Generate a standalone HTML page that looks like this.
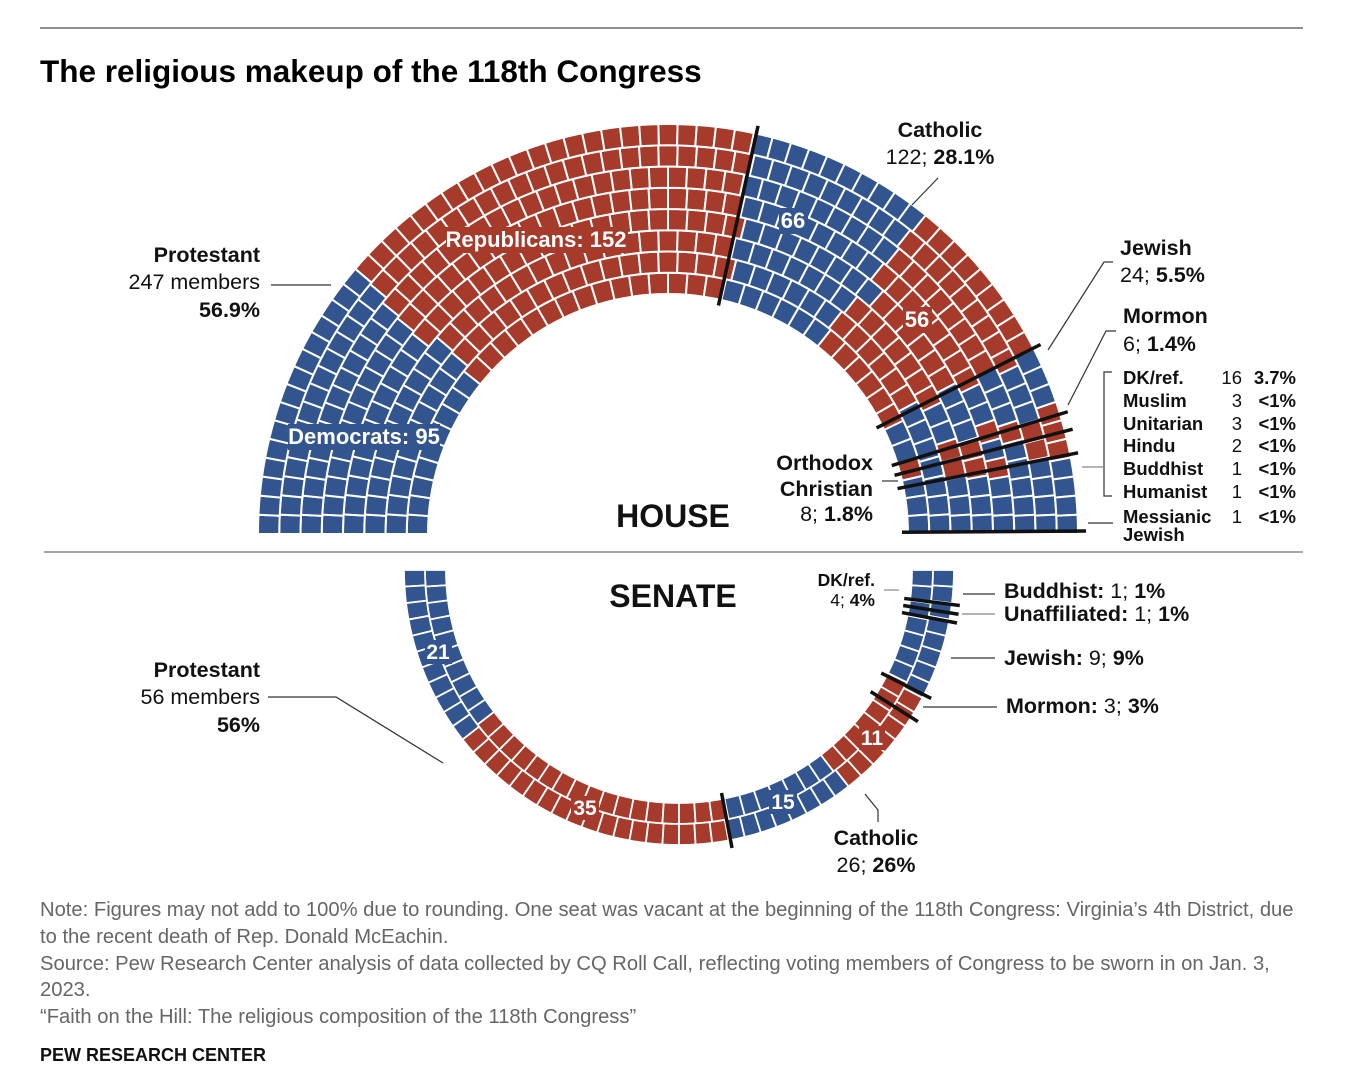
<!DOCTYPE html>
<html><head><meta charset="utf-8">
<style>
html,body{margin:0;padding:0;background:#fff;}
body{width:1348px;height:1078px;overflow:hidden;font-family:"Liberation Sans",Arial,sans-serif;}
svg text{font-family:"Liberation Sans",Arial,sans-serif;}
.b{font-weight:bold;}
</style></head>
<body>
<svg id="chart" width="1348" height="1078" viewBox="0 0 1348 1078" xmlns="http://www.w3.org/2000/svg">
<line x1="40" y1="28" x2="1303" y2="28" stroke="#222" stroke-width="1"/>
<text x="40" y="82" font-size="31.5" font-weight="bold" fill="#000">The religious makeup of the 118th Congress</text>
<g id="house"></g>
<g id="senate"></g>
<line x1="44" y1="552" x2="1303" y2="552" stroke="#888" stroke-width="1.5"/>
<text x="673" y="527" font-size="32" font-weight="bold" text-anchor="middle" fill="#111">HOUSE</text>
<text x="673" y="607" font-size="32" font-weight="bold" text-anchor="middle" fill="#111">SENATE</text>

<g>
<rect x="446" y="227" width="182" height="26" fill="#a63a2b"/>
<rect x="288" y="424" width="152" height="26" fill="#32558f"/>
<rect x="779" y="208" width="29" height="26" fill="#32558f"/>
<rect x="903" y="307" width="29" height="26" fill="#a63a2b"/>
<rect x="425" y="640" width="27" height="24" fill="#32558f"/>
<rect x="571" y="796" width="28" height="24" fill="#a63a2b"/>
<rect x="769" y="790" width="28" height="24" fill="#32558f"/>
<rect x="859" y="726" width="26" height="24" fill="#a63a2b"/>
</g>
<g fill="#fff" font-weight="bold" text-anchor="middle">
<text x="536" y="247" font-size="22">Republicans: 152</text>
<text x="364" y="444" font-size="22">Democrats: 95</text>
<text x="793" y="228" font-size="22">66</text>
<text x="917" y="327" font-size="22">56</text>
<text x="438" y="659" font-size="21">21</text>
<text x="585" y="815" font-size="21">35</text>
<text x="783" y="809" font-size="21">15</text>
<text x="872" y="745" font-size="21">11</text>
</g>

<g fill="#111" font-size="21.5">
<text x="260" y="262" text-anchor="end" class="b">Protestant</text>
<text x="260" y="289" text-anchor="end">247 members</text>
<text x="260" y="317" text-anchor="end" class="b">56.9%</text>
<line x1="271" y1="285" x2="331" y2="285" stroke="#333" stroke-width="1.2"/>
<text x="940" y="137" text-anchor="middle" class="b">Catholic</text>
<text x="940" y="164" text-anchor="middle">122; <tspan class="b">28.1%</tspan></text>
<line x1="938" y1="178" x2="912" y2="205" stroke="#333" stroke-width="1.2"/>
<text x="1120" y="255" class="b">Jewish</text>
<text x="1120" y="282">24; <tspan class="b">5.5%</tspan></text>
<polyline points="1113,262 1104,262 1048,350" fill="none" stroke="#333" stroke-width="1.2"/>
<text x="1123" y="323" class="b">Mormon</text>
<text x="1123" y="351">6; <tspan class="b">1.4%</tspan></text>
<polyline points="1116,331 1106,331 1068,405" fill="none" stroke="#333" stroke-width="1.2"/>
<text x="873" y="470" text-anchor="end" class="b">Orthodox</text>
<text x="873" y="496" text-anchor="end" class="b">Christian</text>
<text x="873" y="521" text-anchor="end">8; <tspan class="b">1.8%</tspan></text>
<line x1="882" y1="481" x2="898" y2="481" stroke="#333" stroke-width="1.2"/>
<g font-size="18.5">
<text x="1123" y="384" class="b">DK/ref.</text><text x="1242" y="384" text-anchor="end">16</text><text x="1296" y="384" text-anchor="end" class="b">3.7%</text>
<text x="1123" y="407" class="b">Muslim</text><text x="1242" y="407" text-anchor="end">3</text><text x="1296" y="407" text-anchor="end" class="b">&lt;1%</text>
<text x="1123" y="430" class="b">Unitarian</text><text x="1242" y="430" text-anchor="end">3</text><text x="1296" y="430" text-anchor="end" class="b">&lt;1%</text>
<text x="1123" y="452" class="b">Hindu</text><text x="1242" y="452" text-anchor="end">2</text><text x="1296" y="452" text-anchor="end" class="b">&lt;1%</text>
<text x="1123" y="475" class="b">Buddhist</text><text x="1242" y="475" text-anchor="end">1</text><text x="1296" y="475" text-anchor="end" class="b">&lt;1%</text>
<text x="1123" y="498" class="b">Humanist</text><text x="1242" y="498" text-anchor="end">1</text><text x="1296" y="498" text-anchor="end" class="b">&lt;1%</text>
<text x="1123" y="523" class="b">Messianic</text><text x="1242" y="523" text-anchor="end">1</text><text x="1296" y="523" text-anchor="end" class="b">&lt;1%</text>
<text x="1123" y="541" class="b">Jewish</text>
</g>
<polyline points="1112,372 1104,372 1104,496 1112,496" fill="none" stroke="#333" stroke-width="1.2"/>
<line x1="1082" y1="467" x2="1104" y2="467" stroke="#888" stroke-width="1.2"/>
<line x1="1088" y1="523" x2="1113" y2="523" stroke="#333" stroke-width="1.2"/>
</g>

<g fill="#111" font-size="21.5">
<text x="260" y="677" text-anchor="end" class="b">Protestant</text>
<text x="260" y="704" text-anchor="end">56 members</text>
<text x="260" y="732" text-anchor="end" class="b">56%</text>
<polyline points="268,697 336,697 443,763" fill="none" stroke="#333" stroke-width="1.2"/>
<text x="875" y="586" text-anchor="end" font-size="17.5" class="b">DK/ref.</text>
<text x="875" y="606" text-anchor="end" font-size="17.5">4; <tspan class="b">4%</tspan></text>
<line x1="884" y1="590" x2="899" y2="590" stroke="#888" stroke-width="1.2"/>
<text x="1004" y="598"><tspan class="b">Buddhist:</tspan> 1; <tspan class="b">1%</tspan></text>
<text x="1004" y="621"><tspan class="b">Unaffiliated:</tspan> 1; <tspan class="b">1%</tspan></text>
<line x1="963" y1="594" x2="995" y2="594" stroke="#333" stroke-width="1.2"/>
<line x1="962" y1="614" x2="995" y2="614" stroke="#888" stroke-width="1.2"/>
<text x="1004" y="665"><tspan class="b">Jewish:</tspan> 9; <tspan class="b">9%</tspan></text>
<line x1="951" y1="658" x2="995" y2="658" stroke="#333" stroke-width="1.2"/>
<text x="1006" y="713"><tspan class="b">Mormon:</tspan> 3; <tspan class="b">3%</tspan></text>
<line x1="923" y1="707" x2="997" y2="707" stroke="#333" stroke-width="1.2"/>
<text x="876" y="845" text-anchor="middle" class="b">Catholic</text>
<text x="876" y="872" text-anchor="middle">26; <tspan class="b">26%</tspan></text>
<polyline points="865,794 878,810 878,822" fill="none" stroke="#333" stroke-width="1.2"/>
</g>

<g fill="#666" font-size="20.2">
<text x="40" y="916">Note: Figures may not add to 100% due to rounding. One seat was vacant at the beginning of the 118th Congress: Virginia’s 4th District, due</text>
<text x="40" y="943">to the recent death of Rep. Donald McEachin.</text>
<text x="40" y="970">Source: Pew Research Center analysis of data collected by CQ Roll Call, reflecting voting members of Congress to be sworn in on Jan. 3,</text>
<text x="40" y="996">2023.</text>
<text x="40" y="1023">“Faith on the Hill: The religious composition of the 118th Congress”</text>
</g>
<text x="40" y="1061" font-size="18" font-weight="bold" fill="#111">PEW RESEARCH CENTER</text>
</svg>
<script>
// House seat segments, clockwise from left
const houseCounts = [95,152,66,56,22,2,6,3,5,26,1];
const houseParty  = ['D','R','D','R','D','R','R','D','R','D','R'];
const houseGroupEnds = [1,3,5,6,8,9]; // index of last segment of each religion group
// Senate seat segments, from left down through bottom to right
const senateCounts = [21,35,15,11,3,9,1,1,4];
const senateParty  = ['D','R','D','R','R','D','D','D','D'];
const senateGroupEnds = [1,3,4,5,6,7];

const NS='http://www.w3.org/2000/svg';
const COL={D:'#32558f',R:'#a63a2b'};
function mk(tag,attrs,parent){const e=document.createElementNS(NS,tag);for(const k in attrs)e.setAttribute(k,attrs[k]);parent.appendChild(e);return e;}

function drawParliament(g,counts,party,groupEnds,cfg){
  const total=counts.reduce((a,b)=>a+b,0);
  const cum=[0];counts.forEach(c=>cum.push(cum[cum.length-1]+c));
  const ang=f=>cfg.a0+(cfg.a1-cfg.a0)*f;
  const pt=(r,a)=>[cfg.cx+r*Math.cos(a),cfg.cy-r*Math.sin(a)];
  const rows=cfg.rows,dr=(cfg.ro-cfg.ri)/rows;
  const mids=[];for(let i=0;i<rows;i++)mids.push(cfg.ri+dr*(i+0.5));
  const sm=mids.reduce((a,b)=>a+b,0);
  let ns=mids.map(m=>Math.round(total*m/sm));
  ns[rows-1]+=total-ns.reduce((a,b)=>a+b,0);
  for(let i=0;i<rows;i++){
    const r0=cfg.ri+dr*i,r1=r0+dr,n=ns[i];
    for(let j=0;j<n;j++){
      const f=(j+0.5)/n*total;
      let s=0;while(s<counts.length-1&&f>cum[s+1])s++;
      const a0=ang(j/n),a1=ang((j+1)/n);
      const p1=pt(r0,a0),p2=pt(r1,a0),p3=pt(r1,a1),p4=pt(r0,a1);
      const sw=(a1<a0)?1:0;
      const d=`M${p1}L${p2}A${r1},${r1} 0 0 ${sw} ${p3}L${p4}A${r0},${r0} 0 0 ${1-sw} ${p1}Z`;
      const c=mk('path',{d:d,fill:COL[party[s]],stroke:'#fff','stroke-width':cfg.sw},g);
      
      
    }
  }
  groupEnds.forEach(k=>{
    const a=ang(cum[k+1]/total);
    const p=pt(cfg.ri-6,a),q=pt(cfg.ro+8,a);
    const l=mk('line',{x1:p[0],y1:p[1],x2:q[0],y2:q[1],stroke:'#111','stroke-width':3.5},g);
    
    
  });
}
drawParliament(document.getElementById('house'),houseCounts,houseParty,houseGroupEnds,
 {cx:668,cy:534,ri:240,ro:410,rows:8,a0:Math.PI,a1:0,sw:2});
drawParliament(document.getElementById('senate'),senateCounts,senateParty,senateGroupEnds,
 {cx:679,cy:570,ri:233,ro:275,rows:2,a0:Math.PI,a1:2*Math.PI,sw:1.8});
</script>
</body></html>
